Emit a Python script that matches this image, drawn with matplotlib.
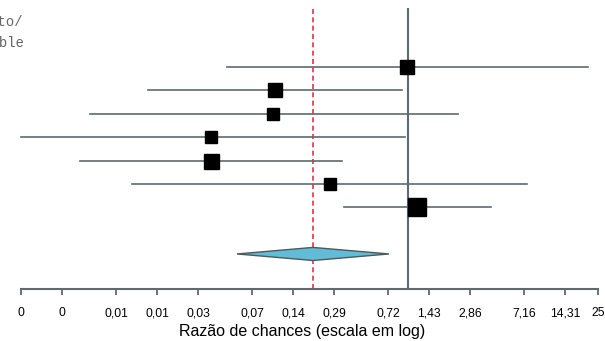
import matplotlib
matplotlib.use('Agg')
import matplotlib.pyplot as plt
from matplotlib.patches import Polygon

# Study data (odds ratio, lower CI, upper CI, weight %)
odds_ratio = [0.98, 0.105, 0.102, 0.0356, 0.0356, 0.267, 1.165]
ci_lower = [0.0467, 0.01225, 0.00459, 0.00143, 0.00388, 0.00935, 0.338]
ci_upper = [21.1, 0.903, 2.33, 0.95, 0.327, 7.5, 4.08]
weights = [13.9, 13.9, 11.1, 9.4, 16.0, 10.2, 25.6]

# Pooled estimate (diamond)
pooled_or = 0.2
pooled_lower = 0.0553
pooled_upper = 0.725

# Axis ticks
tick_values = [0.00143, 0.00286, 0.00716, 0.0143, 0.0286, 0.0716, 0.1431,
               0.2862, 0.7155, 1.431, 2.862, 7.155, 14.31, 25]
tick_labels = ['0', '0', '0,01', '0,01', '0,03', '0,07', '0,14',
               '0,29', '0,72', '1,43', '2,86', '7,16', '14,31', '25']

line_gray = '#5f6a6c'

fig = plt.figure(figsize=(6.05, 3.41), dpi=100)
ax = fig.add_axes([0, 52 / 341, 1, 281 / 341])
ax.set_xscale('log')
ax.set_xlim(0.001, 28.1)
ax.set_ylim(10.5, -1.53)

# Reference lines
ax.axvline(1, color=line_gray, lw=1.5, zorder=1)
ax.axvline(pooled_or, color='#e8304a', lw=1.2, ls=(0, (3, 2)), zorder=1)

# Study rows
for i in range(len(odds_ratio)):
    y = i + 1
    ax.plot([ci_lower[i], ci_upper[i]], [y, y], color=line_gray, lw=1.2, zorder=2)
    ax.plot(odds_ratio[i], y, marker='s', color='black',
            markersize=2.7 * weights[i] ** 0.5, zorder=3)

# Pooled diamond
yd = len(odds_ratio) + 2
diamond = Polygon([(pooled_lower, yd), (pooled_or, yd - 0.28),
                   (pooled_upper, yd), (pooled_or, yd + 0.28)],
                  closed=True, facecolor='#62bcd6', edgecolor='#4a5a5e',
                  lw=1.0, zorder=3)
ax.add_patch(diamond)

# x axis styling
for s in ['top', 'left', 'right']:
    ax.spines[s].set_visible(False)
ax.spines['bottom'].set_bounds(tick_values[0], tick_values[-1])
ax.spines['bottom'].set_color(line_gray)
ax.spines['bottom'].set_linewidth(1.5)
ax.set_yticks([])
ax.set_xticks(tick_values)
ax.set_xticklabels(tick_labels, fontsize=8.7, family='Liberation Sans')
ax.minorticks_off()
ax.tick_params(axis='x', direction='out', length=4.5, width=1.3,
               color=line_gray, pad=8.5)
ax.set_xlabel('Razão de chances (escala em log)', fontsize=11.5,
              family='Liberation Sans', labelpad=3.5)

# Column header (cut off at the left edge, as in the source figure)
fig.text(24 / 605, 1 - 22 / 341, 'Efeito/', ha='right', va='center',
         fontsize=10, family='Liberation Mono', color='#666666')
fig.text(25 / 605, 1 - 43 / 341, 'Variable', ha='right', va='center',
         fontsize=10, family='Liberation Mono', color='#666666')

fig.savefig('out.png', dpi=100)
